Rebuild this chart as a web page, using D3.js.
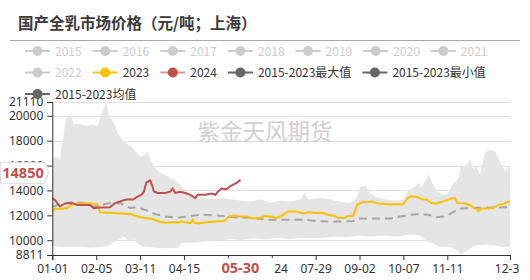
<!DOCTYPE html>
<html>
<head>
<meta charset="utf-8">
<script src="https://cdn.jsdelivr.net/npm/d3@7"></script>
<style>
body { margin: 0; background: #fff; }
svg { display: block; font-family: "Noto Sans CJK SC", "Noto Sans", sans-serif; }
</style>
</head>
<body>
<script>
// values (day labels on a 366-day calendar)
var maxDates = ["01-01","01-03","01-07","01-10","01-12","01-16","01-18","01-21","01-27","02-02","02-06","02-10","02-13","02-15","02-18","02-20","02-22","02-26","03-01","03-05","03-09","03-12","03-17","03-21","03-24","03-27","04-01","04-06","04-12","04-16","04-21","04-28","05-06","05-14","05-22","05-30","06-07","06-15","06-23","07-01","07-09","07-17","07-20","07-23","08-02","08-09","08-17","08-25","08-30","09-03","09-07","09-10","09-15","09-22","09-30","10-07","10-10","10-12","10-16","10-19","10-21","10-24","10-27","10-30","11-03","11-07","11-11","11-15","11-20","11-22","11-25","11-29","12-02","12-04","12-07","12-11","12-15","12-19","12-23","12-27","12-31"];
var maxValues = [16300,16700,16500,18500,19800,20100,19300,19400,19200,19300,19200,20300,21110,20200,19500,19300,18600,18100,17700,17450,16900,16700,17100,16100,15700,15400,15200,14900,14500,13900,13700,13500,13300,13400,13300,13200,13100,13300,13000,13200,13100,13300,13800,13300,13400,13300,13100,13000,13300,14300,14400,13800,13500,13300,13200,13250,13900,14050,14300,14600,14200,14700,15270,14600,13900,13650,13700,14460,15000,16070,15900,16480,15700,16000,15300,17040,17280,17150,16340,15540,16070];

var minDates = ["01-01","01-03","01-11","01-21","01-31","02-10","02-16","02-20","02-24","02-27","03-01","03-07","03-09","03-13","03-19","03-25","04-02","04-10","04-13","04-22","05-02","05-12","05-22","05-30","06-09","06-19","06-29","07-09","07-19","08-01","08-13","08-23","09-02","09-12","09-22","10-02","10-12","10-20","10-26","11-01","11-05","11-14","11-19","11-22","11-25","11-29","12-04","12-12","12-19","12-24","12-31"];
var minValues = [9700,9500,9450,9500,9400,9450,9600,9900,10100,10300,10000,10050,9700,9500,9450,9380,9350,9400,9780,9800,9890,9950,10100,10000,10150,10050,10200,10100,10200,10150,10300,10250,10350,10300,10400,10300,10450,10400,9900,9700,9480,9450,9200,8811,9050,9300,9600,9650,9550,9480,9480];

var meanDates = ["01-01","01-09","01-16","01-26","02-03","02-08","02-14","02-18","02-25","03-03","03-09","03-16","03-23","03-31","04-10","04-20","04-30","05-10","05-20","05-30","06-09","06-19","06-29","07-09","07-19","07-29","08-08","08-18","08-28","09-02","09-27","10-09","10-19","10-27","11-02","11-08","11-14","11-21","12-06","12-31"];
var meanValues = [12700,12950,13050,13000,12700,12800,12950,13000,12950,12600,12650,12400,12100,11900,11800,11950,12050,12000,11900,11800,11800,11650,11650,11640,11650,11550,11500,11500,11550,11750,11750,12000,12100,12050,11850,11900,12150,12550,12600,12650];

var dates2023 = ["01-01","01-03","01-07","01-13","01-16","01-23","01-31","02-06","02-08","02-15","02-25","03-03","03-11","03-21","03-26","03-31","04-06","04-10","04-13","04-20","04-22","04-23","04-27","05-02","05-10","05-17","05-21","05-25","05-30","06-04","06-09","06-14","06-19","06-24","06-27","07-01","07-07","07-14","07-19","07-24","07-29","08-03","08-08","08-13","08-16","08-21","08-24","08-28","08-31","09-04","09-12","09-17","09-25","10-07","10-10","10-12","10-17","10-22","10-26","10-29","11-02","11-06","11-10","11-14","11-17","11-19","11-26","12-01","12-06","12-08","12-14","12-18","12-22","12-26","12-29","12-31"];
var values2023 = [12250,12550,12500,12580,12850,12950,12980,12900,12250,12200,12150,12100,11850,11700,11500,11400,11450,11420,11500,11370,11650,11420,11350,11450,11500,11550,11900,11980,11900,11900,11750,11800,11950,11900,11770,11900,12310,12300,12150,12250,12180,12200,12050,11950,11800,11780,11950,11950,12850,13050,13100,12950,12900,12900,13350,13520,13500,13300,13250,12980,12950,13050,13200,13350,13400,12980,12950,12700,12350,12550,12550,12600,12850,12900,13100,13100];

var dates2024 = ["01-01","01-03","01-07","01-10","01-13","01-17","01-21","01-31","02-03","02-08","02-16","02-20","02-24","02-28","03-03","03-05","03-09","03-12","03-14","03-16","03-19","03-21","03-22","03-25","03-31","04-04","04-06","04-08","04-12","04-16","04-20","04-24","04-26","05-02","05-07","05-10","05-12","05-15","05-19","05-22","05-25","05-27","05-30"];
var values2024 = [13350,13250,12710,12900,12980,12980,12840,12840,12580,12620,12640,12980,13110,13250,13300,13250,13500,13650,13900,14650,14800,14300,13920,13800,13800,13900,14140,13800,13900,13790,13650,13390,13650,13650,13750,13650,13900,14150,14100,14350,14500,14600,14850];

var yTicks = [8811, 10000, 12000, 14000, 16000, 18000, 20000, 21110];
var xTickLabels = ["01-01","02-05","03-11","04-15","05-20","06-24","07-29","09-02","10-07","11-11","12-31"];
var legendNames = ["2015","2016","2017","2018","2019","2020","2021","2022","2023","2024","2015-2023最大值","2015-2023最小值","2015-2023均值"];
var legendColors = ["#ccc","#ccc","#ccc","#ccc","#ccc","#ccc","#ccc","#ccc","#FFC000","#C0504D","#666","#666","#666"];
var pointerDate = "05-30";
var pointerValue = 14850;

var W = 530, H = 280;
var fmt = d3.timeFormat("%m-%d");
var days = d3.timeDay.range(new Date(2024, 0, 1), new Date(2025, 0, 1)).map(fmt);

var svg = d3.select("body").append("svg")
    .attr("width", W)
    .attr("height", H);

var x = d3.scalePoint().domain(days).range([52.3, 510]);
var y = d3.scaleLinear().domain([8811, 21110]).range([255, 102]);

// title
svg.append("text")
    .attr("x", 18).attr("y", 29)
    .style("font-size", "15.5px").style("font-weight", "bold")
    .attr("fill", "#3a3a3a")
    .text("国产全乳市场价格（元/吨；上海）");
svg.append("line")
    .attr("x1", 10).attr("x2", 520).attr("y1", 40.5).attr("y2", 40.5)
    .attr("stroke", "#aaa").attr("stroke-width", 1);

// grid
svg.append("g").selectAll("line")
    .data(yTicks.slice(1))
    .join("line")
    .attr("x1", 52.3).attr("x2", 510)
    .attr("y1", function(d) { return Math.round(y(d)) + 0.5; })
    .attr("y2", function(d) { return Math.round(y(d)) + 0.5; })
    .attr("stroke", "#e0e0e0");

// watermark
svg.append("text")
    .attr("x", 265).attr("y", 140)
    .attr("text-anchor", "middle")
    .style("font-size", "22.5px")
    .attr("fill", "#cfcfcf")
    .text("紫金天风期货");

// max-min band
function pairs(dates, vals) {
  return dates.map(function(d, i) { return [d, vals[i]]; });
}
var maxPts = pairs(maxDates, maxValues);
var minPts = pairs(minDates, minValues);
var band = maxPts.concat(minPts.slice().reverse());
svg.append("path")
    .attr("d", "M" + band.map(function(p) { return x(p[0]) + "," + y(p[1]); }).join("L") + "Z")
    .attr("fill", "#e5e5e5");

var line = d3.line()
    .x(function(p) { return x(p[0]); })
    .y(function(p) { return y(p[1]); });

svg.append("path")
    .attr("d", line(pairs(meanDates, meanValues)))
    .attr("fill", "none").attr("stroke", "#a6a6a6")
    .attr("stroke-width", 2).attr("stroke-dasharray", "8,5");

svg.append("path")
    .attr("d", line(pairs(dates2023, values2023)))
    .attr("fill", "none").attr("stroke", "#FFC000").attr("stroke-width", 2);

svg.append("path")
    .attr("d", line(pairs(dates2024, values2024)))
    .attr("fill", "none").attr("stroke", "#C0504D").attr("stroke-width", 2);

// axes
var clip = svg.append("clipPath").attr("id", "cl").append("rect")
    .attr("x", 0).attr("y", 0).attr("width", 519).attr("height", H);

var xAxis = svg.append("g")
    .attr("transform", "translate(0,255)")
    .attr("clip-path", "url(#cl)")
    .call(d3.axisBottom(x).tickValues(xTickLabels).tickSize(5).tickPadding(4));
xAxis.select(".domain").attr("stroke", "#333");
xAxis.selectAll(".tick line").attr("stroke", "#333");
xAxis.selectAll("text").style("font-size", "12px").attr("fill", "#333")
    .style("font-family", "'Noto Sans', sans-serif");

var yAxis = svg.append("g")
    .attr("transform", "translate(52.3,0)")
    .call(d3.axisLeft(y).tickValues(yTicks).tickFormat(d3.format("d")).tickSize(5).tickPadding(4));
yAxis.select(".domain").attr("stroke", "#333");
yAxis.selectAll(".tick line").attr("stroke", "#333");
yAxis.selectAll("text").style("font-size", "12px").attr("fill", "#333")
    .style("font-family", "'Noto Sans', sans-serif");

// axis pointer labels
var px = x(pointerDate);
svg.append("rect")
    .attr("x", px - 34).attr("y", 258).attr("width", 67.5).attr("height", 21)
    .attr("fill", "#fff");
svg.append("text")
    .attr("x", px).attr("y", 273)
    .attr("text-anchor", "middle")
    .style("font-size", "14.5px").style("font-weight", "bold")
    .style("font-family", "'Noto Sans', sans-serif")
    .attr("fill", "#C0504D")
    .text(pointerDate);

var py = y(pointerValue) - 7;
svg.append("path")
    .attr("d", "M0.5," + (py - 10.5) + "H44.5L48.5," + py + "L44.5," + (py + 10.5) + "H0.5Z")
    .attr("fill", "#fff").attr("stroke", "#ddd");
svg.append("text")
    .attr("x", 23).attr("y", py + 5)
    .attr("text-anchor", "middle")
    .style("font-size", "14.5px").style("font-weight", "bold")
    .style("font-family", "'Noto Sans', sans-serif")
    .attr("fill", "#C0504D")
    .text(pointerValue);

// legend (flow layout)
var legend = svg.append("g");
var lx = 25, ly = 51;
legendNames.forEach(function(name, i) {
  var g = legend.append("g");
  var t = g.append("text")
      .attr("x", 30).attr("y", 4.5)
      .style("font-size", "12px")
      .attr("fill", i < 8 ? "#ccc" : "#333")
      .text(name);
  var w = 30 + t.node().getComputedTextLength();
  if (lx + w > 512) { lx = 25; ly += 21.5; }
  g.attr("transform", "translate(" + lx + "," + ly + ")");
  g.append("line").attr("x1", 0).attr("x2", 25).attr("y1", 0).attr("y2", 0)
      .attr("stroke", legendColors[i]).attr("stroke-width", 2)
      .attr("opacity", i === 9 ? 0.6 : 1);
  g.append("circle").attr("cx", 12.5).attr("cy", 0).attr("r", 5)
      .attr("fill", legendColors[i]);
  lx += w + 11;
});
</script>
</body>
</html>
